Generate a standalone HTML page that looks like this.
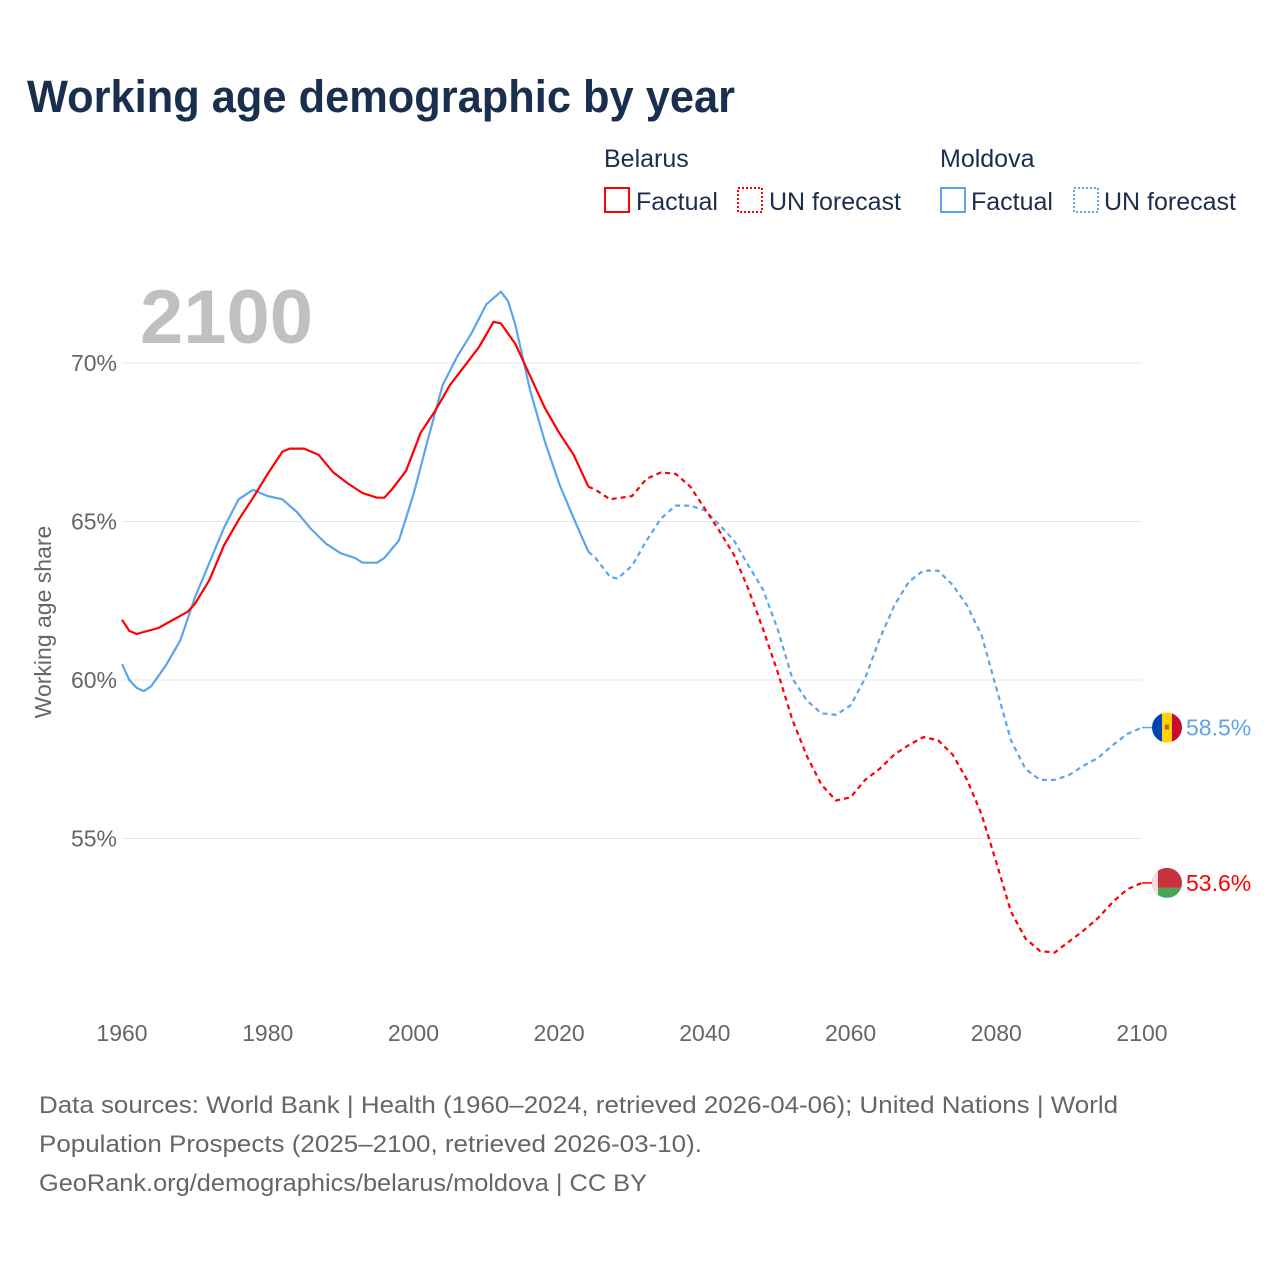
<!DOCTYPE html>
<html><head><meta charset="utf-8">
<style>
body{margin:0;background:#fff;font-family:"Liberation Sans",sans-serif;}
#wrap{position:relative;width:1280px;height:1280px;overflow:hidden;}
</style></head>
<body>
<div id="wrap">
<svg id="chart" width="1280" height="1280">
<text x="27" y="112" font-size="45" font-weight="bold" fill="#1a2e4d" textLength="708" lengthAdjust="spacingAndGlyphs">Working age demographic by year</text>
<g font-size="25" fill="#1a2e4d">
<text x="604" y="167">Belarus</text>
<text x="940" y="167">Moldova</text>
<g><rect x="605" y="188" width="24" height="24" fill="none" stroke="#f00" stroke-width="2"/><text x="636" y="210">Factual</text></g>
<g><rect x="738" y="188" width="24" height="24" fill="none" stroke="#f00" stroke-width="2" stroke-dasharray="2,2"/><text x="769" y="210">UN forecast</text></g>
<g><rect x="941" y="188" width="24" height="24" fill="none" stroke="#5aa5eb" stroke-width="2"/><text x="971" y="210">Factual</text></g>
<g><rect x="1074" y="188" width="24" height="24" fill="none" stroke="#5aa5eb" stroke-width="2" stroke-dasharray="2,2"/><text x="1104" y="210">UN forecast</text></g>
</g>
<text x="140" y="343" font-size="76" font-weight="bold" fill="#c0c0c0" textLength="173" lengthAdjust="spacingAndGlyphs">2100</text>
<text transform="translate(51,622) rotate(-90)" text-anchor="middle" font-size="23" fill="#666">Working age share</text>
<g id="grid"></g><g id="series"></g>
<g font-size="24" fill="#666">
<text x="39" y="1113" textLength="1079" lengthAdjust="spacingAndGlyphs">Data sources: World Bank | Health (1960–2024, retrieved 2026-04-06); United Nations | World</text>
<text x="39" y="1152" textLength="663" lengthAdjust="spacingAndGlyphs">Population Prospects (2025–2100, retrieved 2026-03-10).</text>
<text x="39" y="1191" textLength="608" lengthAdjust="spacingAndGlyphs">GeoRank.org/demographics/belarus/moldova | CC BY</text>
</g>
</svg>
</div>
<script>
const xTicks=[1960,1980,2000,2020,2040,2060,2080,2100];
const yTicks=[55,60,65,70];
const byYears=[1960,1961,1962,1965,1969,1970,1972,1974,1976,1978,1980,1982,1983,1985,1987,1989,1991,1993,1995,1996,1997,1999,2001,2003,2005,2007,2009,2011,2012,2014,2016,2018,2020,2022,2024];
const byVals=[61.9,61.55,61.45,61.64,62.15,62.4,63.15,64.25,65.05,65.75,66.5,67.2,67.3,67.3,67.1,66.55,66.2,65.9,65.75,65.75,66.0,66.6,67.8,68.5,69.3,69.9,70.5,71.3,71.25,70.6,69.6,68.6,67.8,67.1,66.1];
const byFYears=[2024,2025,2027,2030,2032,2034,2036,2038,2040,2042,2044,2046,2048,2050,2052,2054,2056,2058,2060,2062,2064,2066,2068,2070,2072,2074,2076,2078,2080,2082,2084,2086,2088,2090,2092,2094,2096,2098,2100];
const byFVals=[66.1,66.0,65.7,65.8,66.35,66.55,66.5,66.1,65.4,64.7,63.95,62.85,61.6,60.25,58.75,57.6,56.7,56.2,56.3,56.85,57.2,57.65,57.95,58.2,58.1,57.65,56.85,55.75,54.25,52.7,51.85,51.45,51.4,51.75,52.1,52.5,53.0,53.4,53.6];
const mdYears=[1960,1961,1962,1963,1964,1966,1968,1970,1972,1974,1976,1978,1980,1982,1984,1986,1988,1990,1992,1993,1995,1996,1998,2000,2002,2004,2006,2008,2010,2012,2013,2014,2016,2018,2020,2022,2024];
const mdVals=[60.5,60.0,59.75,59.65,59.8,60.45,61.25,62.6,63.7,64.8,65.7,66.0,65.8,65.7,65.3,64.75,64.3,64.0,63.85,63.7,63.7,63.85,64.4,65.85,67.6,69.3,70.2,70.95,71.85,72.25,71.95,71.2,69.15,67.55,66.2,65.1,64.05];
const mdFYears=[2024,2025,2027,2028,2030,2032,2034,2036,2038,2040,2042,2044,2046,2048,2050,2052,2054,2056,2058,2060,2062,2064,2066,2068,2070,2072,2074,2076,2078,2080,2082,2084,2086,2088,2090,2092,2094,2096,2098,2100];
const mdFVals=[64.05,63.85,63.25,63.2,63.6,64.4,65.1,65.5,65.5,65.35,64.9,64.4,63.6,62.85,61.6,60.05,59.35,58.95,58.9,59.2,60.05,61.3,62.35,63.1,63.45,63.45,63.0,62.35,61.4,59.75,58.1,57.2,56.85,56.85,57.0,57.3,57.55,57.95,58.3,58.5];

const NS="http://www.w3.org/2000/svg";
const X=y=>122+(y-1960)*(1020/140);
const Y=v=>363+(70-v)*31.7;
function mk(t,a,p){const e=document.createElementNS(NS,t);for(const k in a)e.setAttribute(k,a[k]);p.appendChild(e);return e;}
const grid=document.getElementById('grid'),ser=document.getElementById('series');
yTicks.forEach(v=>{
 const l=mk('line',{x1:122,x2:1142,y1:Y(v),y2:Y(v),stroke:'#e6e6e6','stroke-width':1},grid);
 
 
 const t=mk('text',{x:117,y:Y(v)+8,'text-anchor':'end','font-size':23,fill:'#666'},grid);t.textContent=v+'%';
 
 
});
xTicks.forEach(v=>{
 const t=mk('text',{x:X(v),y:1041,'text-anchor':'middle','font-size':23,fill:'#666'},grid);t.textContent=v;
 
 
});
function line(ys,vs,col,dash,name){
 const d=ys.map((y,i)=>(i?'L':'M')+X(y).toFixed(1)+','+Y(vs[i]).toFixed(1)).join('');
 const a={d:d,fill:'none',stroke:col,'stroke-width':2.2,'stroke-linejoin':'round'};
 if(dash)a['stroke-dasharray']='5,4';
 const p=mk('path',a,ser);
 
 
}
const R='#f00',B='#5aa5eb';
line(mdYears,mdVals,B,false,'moldova-factual-line');
line(mdFYears,mdFVals,B,true,'moldova-forecast-line');
line(byYears,byVals,R,false,'belarus-factual-line');
line(byFYears,byFVals,R,true,'belarus-forecast-line');
function endLabel(v,col,name,flag){
 const cx=1167,cy=Y(v);
 const g=mk('g',{},ser);
 
 
 mk('line',{x1:X(2100),x2:cx-14,y1:cy,y2:cy,stroke:col,'stroke-width':1.5},g);
 const cp=mk('clipPath',{id:'c'+name},g);mk('circle',{cx:cx,cy:cy,r:15},cp);
 const fg=mk('g',{'clip-path':'url(#c'+name+')'},g);
 if(flag==='md'){
  mk('rect',{x:cx-15,y:cy-15,width:10,height:30,fill:'#0046ae'},fg);
  mk('rect',{x:cx-5,y:cy-15,width:10,height:30,fill:'#ffd200'},fg);
  mk('rect',{x:cx+5,y:cy-15,width:10,height:30,fill:'#cc092f'},fg);
  mk('rect',{x:cx-2,y:cy-3,width:4,height:5,fill:'#b5673a'},fg);
 }else{
  mk('rect',{x:cx-15,y:cy-15,width:30,height:20,fill:'#c8313e'},fg);
  mk('rect',{x:cx-15,y:cy+5,width:30,height:10,fill:'#4aa657'},fg);
  mk('rect',{x:cx-15,y:cy-15,width:6,height:30,fill:'#f4dede'},fg);
 }
 const t=mk('text',{x:1186,y:cy+8,'font-size':23,fill:col},g);t.textContent=v.toFixed(1)+'%';
}
endLabel(mdFVals[mdFVals.length-1],B,'moldova-end-label','md');
endLabel(byFVals[byFVals.length-1],R,'belarus-end-label','by');
</script>
</body></html>
